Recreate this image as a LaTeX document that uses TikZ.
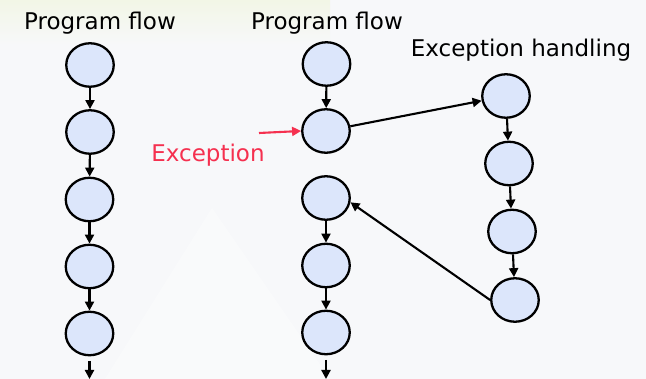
\documentclass[tikz,border=0pt]{standalone}
\usepackage{fontspec}
\setmainfont{DejaVu Sans}
\usetikzlibrary{arrows.meta,shapes.geometric}
\definecolor{bgc}{HTML}{F7F8FA}
\definecolor{bgtint}{HTML}{F2F6E6}
\definecolor{nodefill}{HTML}{DCE6FB}
\definecolor{excred}{HTML}{F5304F}
\begin{document}
\begin{tikzpicture}[x=1pt,y=-1pt,
  stepnode/.style={ellipse, draw=black, line width=2.3pt, fill=nodefill,
    minimum width=47.5pt, minimum height=43.5pt, inner sep=0pt},
  flow/.style={-{Triangle[length=9pt,width=9pt]}, line width=2.1pt},
  caption/.style={font=\fontsize{23}{27}\selectfont, anchor=base, inner sep=0pt}]

% canvas
\useasboundingbox (0,0) rectangle (646,379);
\fill[bgc] (0,0) rectangle (646,379);
\shade[top color=bgtint, bottom color=bgc] (0,0) rectangle (330,45);
\fill[white, opacity=0.35] (105,379) -- (212,208) -- (330,379) -- cycle;

% headings
\node[caption] (hleft) at (100,29.5) {Program flow};
\node[caption] (hmid) at (327,29.5) {Program flow};
\node[caption] (hexc) at (521,57) {Exception handling};
\node[caption, text=excred] (exc) at (208,161.5) {Exception};

% plain program flow
\node[stepnode] (l1) at (90,65) {};
\node[stepnode] (l2) at (90,132) {};
\node[stepnode] (l3) at (89.5,199.5) {};
\node[stepnode] (l4) at (89.5,266.5) {};
\node[stepnode] (l5) at (89.5,333.5) {};
\coordinate (l5a) at (89.5,361);
\coordinate (l5b) at (89.5,379);

% interrupted program flow
\node[stepnode] (m1) at (326.5,64) {};
\node[stepnode] (m2) at (326,131) {};
\node[stepnode] (m3) at (326,198) {};
\node[stepnode] (m4) at (326,265.5) {};
\node[stepnode] (m5) at (326,332.5) {};
\coordinate (m5a) at (326,360);
\coordinate (m5b) at (326,379);

% exception handler
\node[stepnode] (r1) at (506,96) {};
\node[stepnode] (r2) at (509,163.5) {};
\node[stepnode] (r3) at (512,231.5) {};
\node[stepnode] (r4) at (515,300) {};

% exception source
\coordinate (exs) at (259,133);

% connectors
\draw[flow] (l1) -- (l2);
\draw[flow] (l2) -- (l3);
\draw[flow] (l3) -- (l4);
\draw[flow] (l4) -- (l5);
\draw[flow] (l5a) -- (l5b);

\draw[flow] (m1) -- (m2);
\draw[flow] (m3) -- (m4);
\draw[flow] (m4) -- (m5);
\draw[flow] (m5a) -- (m5b);

\draw[flow] (r1) -- (r2);
\draw[flow] (r2) -- (r3);
\draw[flow] (r3) -- (r4);

\draw[flow] (m2) -- (r1);
\draw[flow] (r4.west) -- (m3.-10);
\draw[flow, draw=excred, fill=excred] (exs) -- (m2.west);
\end{tikzpicture}
\end{document}
